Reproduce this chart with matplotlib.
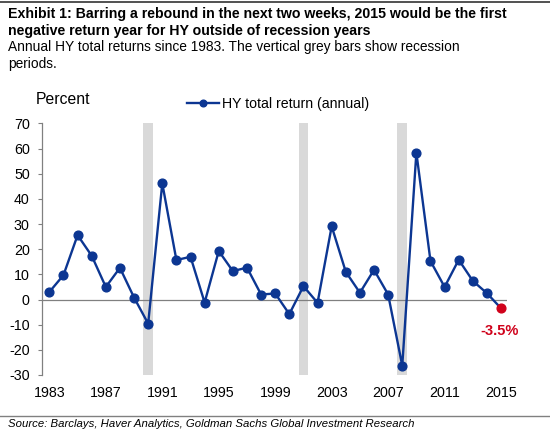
import matplotlib
matplotlib.use("Agg")
import matplotlib.pyplot as plt
from matplotlib.lines import Line2D

plt.rcParams['font.family'] = ['Liberation Sans', 'DejaVu Sans']
plt.rcParams['axes.unicode_minus'] = False

years = list(range(1983, 2016))
returns = [3.0, 9.7, 25.6, 17.4, 5.0, 12.6, 0.8, -9.6, 46.2, 15.7, 17.0, -1.2,
           19.3, 11.3, 12.7, 2.0, 2.4, -5.8, 5.3, -1.3, 29.1, 11.0, 2.7, 11.8,
           2.0, -26.3, 58.4, 15.3, 5.0, 15.8, 7.4, 2.5, -3.5]
recession_years = [1990, 2001, 2008]
xtick_years = [1983, 1987, 1991, 1995, 1999, 2003, 2007, 2011, 2015]
yticks = list(range(-30, 80, 10))

navy = '#0C3692'
red = '#D0021B'
grey_bar = '#D9D9D9'

fig = plt.figure(figsize=(5.5, 4.33), dpi=100)
ax = fig.add_axes([0.0769, 0.134, 0.9213 - 0.0769, 0.7148 - 0.134])

for ry in recession_years:
    ax.axvspan(ry - 0.34, ry + 0.32, color=grey_bar, lw=0, zorder=0)

ax.axhline(0, color='#808080', lw=0.9, zorder=1)
ax.plot(years[:-1], returns[:-1], color=navy, lw=1.7, marker='o', ms=6.3,
        markeredgecolor=navy, zorder=3)
ax.plot(years[-2:], returns[-2:], color=navy, lw=1.7, zorder=2)
ax.plot(years[-1], returns[-1], 'o', color=red, ms=6.3, zorder=4)
ax.annotate(f"{returns[-1]:.1f}%", (years[-1], returns[-1]), xytext=(-1, -16.5),
            textcoords='offset points', ha='center', va='center',
            color=red, fontsize=10.5, fontweight='bold')

ax.set_xlim(1982.5, 2015.4)
ax.set_ylim(-30, 70)
ax.set_yticks(yticks)
ax.set_xticks(xtick_years)
ax.set_xticklabels([str(y) for y in xtick_years])
for s in ['top', 'right', 'bottom']:
    ax.spines[s].set_visible(False)
ax.spines['left'].set_color('#808080')
ax.spines['left'].set_linewidth(0.9)
ax.tick_params(axis='y', direction='out', length=3, color='#808080', labelsize=10.3, pad=6)
ax.tick_params(axis='x', length=0, labelsize=10.3, pad=8)

leg_handle = Line2D([], [], color=navy, lw=1.7, marker='o', ms=4.8)
fig.legend([leg_handle], ['HY total return (annual)'], loc='center',
           bbox_to_anchor=(0.505, 1 - 104 / 433), frameon=False, fontsize=10.2,
           handlelength=2.25, handletextpad=0.2, borderpad=0, borderaxespad=0)

fig.text(36 / 550, 1 - 100 / 433, 'Percent', fontsize=11.3, va='center', ha='left')

fig.text(8 / 550, 1 - 14 / 433, 'Exhibit 1: Barring a rebound in the next two weeks, 2015 would be the first',
         fontsize=10.2, fontweight='bold', va='center')
fig.text(8 / 550, 1 - 31 / 433, 'negative return year for HY outside of recession years',
         fontsize=10.2, fontweight='bold', va='center')
fig.text(8 / 550, 1 - 47 / 433, 'Annual HY total returns since 1983. The vertical grey bars show recession',
         fontsize=9.9, va='center')
fig.text(8 / 550, 1 - 64 / 433, 'periods.', fontsize=9.9, va='center')
fig.text(8 / 550, 1 - 424 / 433, 'Source: Barclays, Haver Analytics, Goldman Sachs Global Investment Research',
         fontsize=8.2, style='italic', va='center')

fig.add_artist(Line2D([0, 1], [1 - 1.5 / 433, 1 - 1.5 / 433], color='#333333', lw=1.2,
                      transform=fig.transFigure))
fig.add_artist(Line2D([0, 1], [1 - 416 / 433, 1 - 416 / 433], color='#808080', lw=1.0,
                      transform=fig.transFigure))

fig.savefig('out.png', dpi=100)
